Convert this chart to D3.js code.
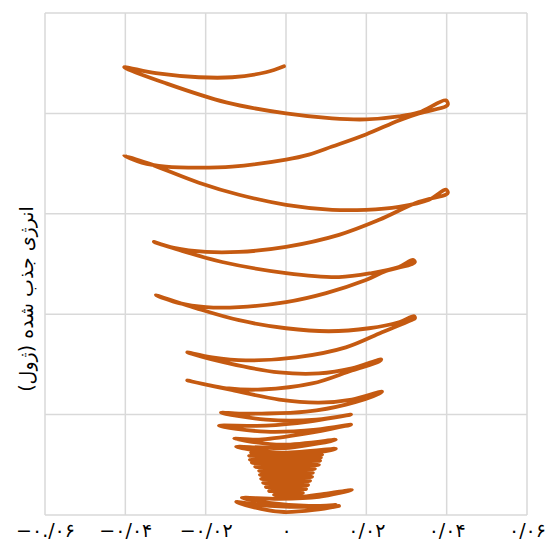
<!DOCTYPE html>
<html>
<head>
<meta charset="utf-8">
<script src="https://cdn.jsdelivr.net/npm/d3@7"></script>
<style>
  html, body { margin: 0; padding: 0; background: #fff; }
  svg { display: block; }
</style>
</head>
<body>
<svg id="chart" width="545" height="543"></svg>
<script>
// ---- data ----
const xTickValues = [-0.06, -0.04, -0.02, 0, 0.02, 0.04, 0.06];
const xTickLabels = ["−۰./۰۶", "−۰/۰۴", "−۰/۰۲", "۰", "۰/۰۲", "۰/۰۴", "۰/۰۶"];
const yTickValues = [0, 1, 2, 3, 4, 5];
const yAxisTitle = "انرژی جذب شده (ژول)";

// displacement (x) and absorbed energy (y)
const xValues = [
  -0.0005, -0.0050, -0.0134, -0.0217, -0.0324, -0.0403,
  -0.0299, -0.0149, 0.0000, 0.0115, 0.0199, 0.0281, 0.0331, 0.0398, 0.0403,
  0.0398, 0.0331, 0.0281, 0.0199, 0.0115, 0.0057, 0.0000, -0.0134, -0.0217, -0.0299, -0.0359, -0.0403,
  -0.0341, -0.0217, -0.0117, 0.0000, 0.0115, 0.0199, 0.0281, 0.0356, 0.0398, 0.0403,
  0.0398, 0.0331, 0.0232, 0.0132, 0.0000, -0.0117, -0.0199, -0.0279, -0.0329,
  -0.0266, -0.0159, 0.0000, 0.0132, 0.0214, 0.0281, 0.0316, 0.0321,
  0.0314, 0.0249, 0.0199, 0.0100, 0.0000, -0.0117, -0.0199, -0.0266, -0.0324,
  -0.0224, -0.0117, 0.0000, 0.0107, 0.0207, 0.0281, 0.0319, 0.0321,
  0.0311, 0.0239, 0.0149, 0.0025, -0.0100, -0.0184, -0.0246,
  -0.0142, -0.0017, 0.0082, 0.0164, 0.0237,
  0.0232, 0.0164, 0.0065, -0.0060, -0.0142, -0.0246,
  -0.0142, -0.0017, 0.0082, 0.0164, 0.0239,
  0.0232, 0.0149, 0.0050, -0.0060, -0.0117, -0.0162,
  -0.0050, 0.0075, 0.0162,
  0.0057, -0.0050, -0.0167,
  -0.0050, 0.0075, 0.0162,
  0.0032, -0.0067, -0.0129,
  -0.0010, 0.0124,
  0.0007, -0.0124,
  -0.0010, 0.0124,
  0.0087, -0.0087, 0.0090, -0.0092, 0.0087, -0.0090, 0.0085, -0.0085,
  0.0082, -0.0077, 0.0072, -0.0067, 0.0067, -0.0065, 0.0065, -0.0062,
  0.0060, -0.0057, 0.0055, -0.0050, 0.0050, -0.0042, 0.0042, -0.0030, 0.0032,
  0.0095, 0.0164,
  0.0082, -0.0017, -0.0110,
  -0.0042, 0.0057, 0.0124,
  0.0032, -0.0067, -0.0124,
  -0.0062, -0.0005, 0.0070, 0.0132
];
const yValues = [
  4.47, 4.41, 4.36, 4.36, 4.40, 4.46,
  4.30, 4.11, 4.00, 3.95, 3.94, 3.97, 4.01, 4.13, 4.09,
  4.07, 4.00, 3.93, 3.79, 3.67, 3.59, 3.54, 3.47, 3.46, 3.47, 3.51, 3.58,
  3.50, 3.31, 3.19, 3.09, 3.04, 3.04, 3.07, 3.14, 3.24, 3.21,
  3.19, 3.12, 2.94, 2.79, 2.67, 2.62, 2.62, 2.66, 2.72,
  2.64, 2.52, 2.41, 2.37, 2.41, 2.47, 2.54, 2.52,
  2.50, 2.43, 2.34, 2.21, 2.12, 2.07, 2.07, 2.11, 2.19,
  2.06, 1.94, 1.86, 1.83, 1.86, 1.92, 1.98, 1.96,
  1.94, 1.82, 1.67, 1.57, 1.54, 1.57, 1.62,
  1.51, 1.42, 1.41, 1.46, 1.55,
  1.53, 1.44, 1.31, 1.25, 1.26, 1.34,
  1.25, 1.15, 1.12, 1.15, 1.23,
  1.21, 1.10, 1.03, 1.01, 1.01, 1.02,
  0.95, 0.95, 1.00,
  0.93, 0.89, 0.89,
  0.83, 0.85, 0.90,
  0.80, 0.75, 0.76,
  0.70, 0.75,
  0.67, 0.68,
  0.62, 0.66,
  0.63, 0.62, 0.60, 0.59, 0.57, 0.55, 0.54, 0.52,
  0.50, 0.48, 0.46, 0.44, 0.42, 0.40, 0.38, 0.36,
  0.34, 0.32, 0.30, 0.28, 0.26, 0.24, 0.22, 0.20, 0.18,
  0.21, 0.25,
  0.18, 0.16, 0.17,
  0.12, 0.09, 0.10,
  0.08, 0.10, 0.13,
  0.06, 0.03, 0.05, 0.09
];

// ---- layout ----
const W = 545, H = 543;
const margin = { top: 13, right: 18, bottom: 28, left: 45 };
const svg = d3.select("#chart");

const x = d3.scaleLinear().domain([-0.06, 0.06]).range([margin.left, W - margin.right]);
const y = d3.scaleLinear().domain([0, 5]).range([H - margin.bottom, margin.top]);

const gridColor = "#d9d9d9";

// vertical gridlines
svg.append("g").selectAll("line").data(xTickValues).join("line")
  .attr("x1", d => x(d)).attr("x2", d => x(d))
  .attr("y1", y(0)).attr("y2", y(5))
  .attr("stroke", gridColor).attr("stroke-width", 1.5);

// horizontal gridlines
svg.append("g").selectAll("line").data(yTickValues).join("line")
  .attr("x1", x(-0.06)).attr("x2", x(0.06))
  .attr("y1", d => y(d)).attr("y2", d => y(d))
  .attr("stroke", gridColor).attr("stroke-width", 1.5);

// x axis labels
const xAxis = d3.axisBottom(x)
  .tickValues(xTickValues)
  .tickSize(0)
  .tickPadding(9)
  .tickFormat((d, i) => xTickLabels[i]);
const gx = svg.append("g")
  .attr("transform", `translate(0,${y(0)})`)
  .call(xAxis);
gx.select(".domain").remove();
gx.selectAll("text")
  .attr("font-family", "DejaVu Sans, sans-serif")
  .attr("font-size", 19)
  .attr("fill", "#000")
  .attr("direction", "ltr");

// y axis title
svg.append("text")
  .attr("transform", `translate(27,${(y(0) + y(5)) / 2 + 35}) rotate(-90)`)
  .attr("text-anchor", "middle")
  .attr("dominant-baseline", "middle")
  .attr("font-family", "DejaVu Sans, sans-serif")
  .attr("font-size", 19)
  .attr("fill", "#000")
  .text(yAxisTitle);

// curve
const pts = xValues.map((v, i) => [v, yValues[i]]);
const line = d3.line()
  .x(d => x(d[0]))
  .y(d => y(d[1]))
  .curve(d3.curveCatmullRom.alpha(0.5));

svg.append("path")
  .datum(pts)
  .attr("d", line)
  .attr("fill", "none")
  .attr("stroke", "#c55a11")
  .attr("stroke-width", 3.8)
  .attr("stroke-linecap", "round")
  .attr("stroke-linejoin", "round");
</script>
</body>
</html>
